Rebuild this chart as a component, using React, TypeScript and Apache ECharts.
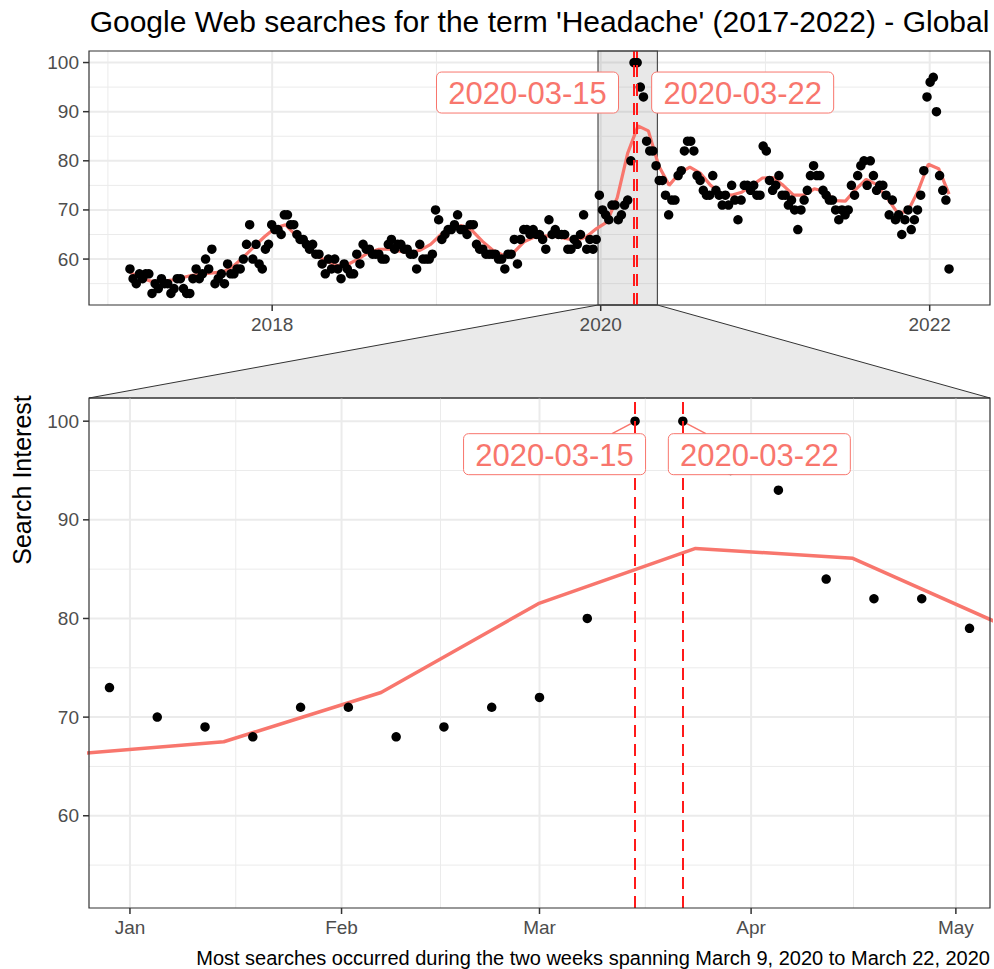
import React, { useEffect, useRef } from 'react';
import * as echarts from 'echarts';

// ---------- data ----------
const DAY = 86400000;
const ts = (s: string) => Date.parse(s.length === 10 ? s + 'T00:00:00Z' : s);

// Weekly Google Trends index for "Headache", weeks starting on Sundays
const firstWeek = '2017-02-19';
const searchInterest = [
  58, 56, 55, 57, 56, 57, 57, 53, 55, 54,
  56, 55, 55, 53, 54, 56, 56, 54, 53, 53,
  56, 58, 56, 57, 60, 58, 62, 55, 56, 57,
  55, 59, 57, 57, 58, 58, 60, 63, 67, 60,
  63, 59, 58, 62, 63, 67, 66, 66, 65, 69,
  69, 67, 67, 65, 64, 64, 63, 62, 63, 61,
  61, 59, 57, 60, 58, 60, 58, 56, 59, 58,
  57, 57, 61, 59, 63, 62, 62, 61, 61, 61,
  60, 60, 63, 64, 62, 63, 63, 62, 62, 61,
  61, 58, 63, 60, 60, 60, 61, 70, 68, 64,
  65, 66, 66, 67, 69, 66, 66, 65, 67, 67,
  63, 62, 62, 61, 61, 61, 61, 60, 60, 58,
  61, 61, 64, 59, 64, 66, 66, 65, 66, 65,
  65, 64, 62, 68, 65, 66, 65, 65, 65, 62,
  62, 64, 63, 65, 69, 62, 64, 62, 64, 73,
  70, 69, 68, 71, 71, 68, 69, 71, 72, 80,
  100, 100, 95, 93, 84, 82, 82, 79, 76, 76,
  73, 69, 72, 72, 77, 78, 82, 84, 84, 82,
  77, 76, 74, 73, 73, 77, 74, 73, 71, 73,
  71, 75, 72, 68, 72, 75, 75, 74, 75, 73,
  73, 83, 82, 76, 74, 75, 77, 73, 73, 71,
  72, 70, 66, 70, 72, 74, 77, 79, 77, 77,
  74, 73, 72, 72, 70, 68, 70, 69, 70, 75,
  73, 77, 79, 80, 75, 80, 77, 74, 75, 75,
  73, 69, 72, 68, 69, 65, 68, 70, 66, 68,
  70, 73, 78, 93, 96, 97, 90, 77, 74, 72, 58,
];

// Smoothed trend, evaluated at 80 evenly spaced dates over the whole span
const smoothFit = [
  57.3, 56.3, 55.5, 55.4, 55.7, 56.2, 56.7, 57.0, 57.2, 57.4,
  58.6, 60.5, 62.6, 64.6, 66.3, 67.0, 64.8, 62.5, 60.8, 59.5,
  58.7, 58.9, 60.0, 61.3, 62.0, 62.0, 61.6, 61.3, 61.8, 63.0,
  65.0, 66.3, 66.8, 65.8, 63.6, 61.8, 60.8, 61.3, 63.5, 64.5,
  64.7, 64.6, 64.2, 63.8, 64.5, 66.2, 67.5, 72.5, 81.5, 87.1,
  86.1, 79.0, 75.0, 77.5, 78.7, 77.5, 75.0, 73.3, 73.0, 73.6,
  75.0, 76.5, 76.6, 75.0, 73.0, 73.0, 74.3, 73.8, 71.9, 71.8,
  74.2, 76.2, 75.2, 72.5, 69.5, 69.6, 73.8, 79.3, 78.4, 73.2,
];

// Peak weeks that get a dashed marker and a label
const peakWeeks = ['2020-03-15', '2020-03-22'];

// Zoomed window shown in the lower panel
const zoomWindow = ['2020-01-01', '2020-04-30'];

// Axis breaks and labels
const topXMajor = ['2018-01-01', '2020-01-01', '2022-01-01'];
const topXLabels = ['2018', '2020', '2022'];
const topXMinor = ['2017-01-01', '2019-01-01', '2021-01-01'];
const botXMajor = ['2020-01-01', '2020-02-01', '2020-03-01', '2020-04-01', '2020-05-01'];
const botXLabels = ['Jan', 'Feb', 'Mar', 'Apr', 'May'];
const botXMinor = ['2020-01-16T12:00:00Z', '2020-02-15T12:00:00Z', '2020-03-16T12:00:00Z', '2020-04-16T00:00:00Z'];
const yMajor = [60, 70, 80, 90, 100];
const yMinor = [55, 65, 75, 85, 95];

const titleText = "Google Web searches for the term 'Headache' (2017-2022) - Global";
const yTitle = 'Search Interest';
const captionText = 'Most searches occurred during the two weeks spanning March 9, 2020 to March 22, 2020';

// ---------- derived ----------
const t0 = ts(firstWeek);
const weekDates = searchInterest.map((_, i) => t0 + i * 7 * DAY);
const spanMs = weekDates[weekDates.length - 1] - t0;
const smoothDates = smoothFit.map((_, k) => t0 + (k * spanMs) / (smoothFit.length - 1));
const points = weekDates.map((d, i) => [d, searchInterest[i]]);
const trend = smoothDates.map((d, k) => [d, smoothFit[k]]);

const topXMin = t0 - 0.05 * spanMs;
const topXMax = t0 + spanMs * 1.05;
const zSpan = ts(zoomWindow[1]) - ts(zoomWindow[0]);
const botXMin = ts(zoomWindow[0]) - 0.05 * zSpan;
const botXMax = ts(zoomWindow[1]) + 0.05 * zSpan;
const vMin = Math.min(...searchInterest);
const vMax = Math.max(...searchInterest);
const yMin = vMin - 0.05 * (vMax - vMin);
const yMax = vMax + 0.05 * (vMax - vMin);

const peakPoints = peakWeeks.map((d) => {
  const t = ts(d);
  const i = weekDates.indexOf(t);
  return [t, searchInterest[i]];
});

// ---------- layout & style ----------
const TOP = { left: 89, top: 51, width: 901, height: 254 };
const BOT = { left: 89, top: 398, width: 901, height: 510 };
const FONT = '"Liberation Sans", Arial, Helvetica, sans-serif';
const RED = '#F8766D';
const GRID = '#EBEBEB';
const DARK = '#333333';
const TICKTXT = '#4D4D4D';

const topLabelLayout = [
  { dx: -106.5, dy: 30, seg: null as null | number[] },
  { dx: 105.5, dy: 30, seg: null as null | number[] },
];
const botLabelLayout = [
  { dx: -80.5, dy: 33, seg: [-4, 2.5, -23, 12.5] },
  { dx: 76.5, dy: 33, seg: [4, 2.5, 23, 12.5] },
];

function txt(text: string, x: number, y: number, size: number, fill: string, align: string, valign: string) {
  return {
    type: 'text',
    x,
    y,
    style: {
      text,
      fill,
      font: `${size}px ${FONT}`,
      textAlign: align,
      textVerticalAlign: valign,
      align,
      verticalAlign: valign,
    },
  };
}

function xDecor(axis: number, majors: string[], labels: string[], minors: string[]) {
  const data = [
    ...majors.map((d, i) => [ts(d), yMin, 1, i]),
    ...minors.map((d) => [ts(d), yMin, 0, -1]),
  ];
  return {
    type: 'custom',
    xAxisIndex: axis,
    yAxisIndex: axis,
    silent: true,
    clip: false,
    z: 1,
    encode: { x: 0, y: 1 },
    data,
    renderItem: (params: any, api: any) => {
      const cs = params.coordSys;
      const x = api.coord([api.value(0), api.value(1)])[0];
      const major = api.value(2) === 1;
      const bottom = cs.y + cs.height;
      const children: any[] = [
        { type: 'line', shape: { x1: x, y1: cs.y, x2: x, y2: bottom }, style: { stroke: GRID, lineWidth: major ? 2 : 1 } },
      ];
      if (major) {
        children.push({ type: 'line', shape: { x1: x, y1: bottom, x2: x, y2: bottom + 6 }, style: { stroke: DARK, lineWidth: 1.5 } });
        children.push(txt(labels[api.value(3)], x, bottom + 10, 19, TICKTXT, 'center', 'top'));
      }
      return { type: 'group', children };
    },
  };
}

function yDecor(axis: number, xRef: number) {
  const data = [...yMajor.map((v) => [xRef, v, 1]), ...yMinor.map((v) => [xRef, v, 0])];
  return {
    type: 'custom',
    xAxisIndex: axis,
    yAxisIndex: axis,
    silent: true,
    clip: false,
    z: 1,
    encode: { x: 0, y: 1 },
    data,
    renderItem: (params: any, api: any) => {
      const cs = params.coordSys;
      const y = api.coord([api.value(0), api.value(1)])[1];
      const major = api.value(2) === 1;
      const children: any[] = [
        { type: 'line', shape: { x1: cs.x, y1: y, x2: cs.x + cs.width, y2: y }, style: { stroke: GRID, lineWidth: major ? 2 : 1 } },
      ];
      if (major) {
        children.push({ type: 'line', shape: { x1: cs.x - 6, y1: y, x2: cs.x, y2: y }, style: { stroke: DARK, lineWidth: 1.5 } });
        children.push(txt(String(api.value(1)), cs.x - 10, y, 19, TICKTXT, 'right', 'middle'));
      }
      return { type: 'group', children };
    },
  };
}

function peakLabels(axis: number, layout: typeof botLabelLayout) {
  return {
    type: 'custom',
    xAxisIndex: axis,
    yAxisIndex: axis,
    silent: true,
    clip: false,
    z: 6,
    encode: { x: 0, y: 1 },
    data: peakPoints,
    renderItem: (params: any, api: any) => {
      const [ax, ay] = api.coord([api.value(0), api.value(1)]);
      const l = layout[params.dataIndex];
      const cx = ax + l.dx;
      const cy = ay + l.dy;
      const children: any[] = [];
      if (l.seg) {
        children.push({
          type: 'line',
          shape: { x1: ax + l.seg[0], y1: ay + l.seg[1], x2: ax + l.seg[2], y2: ay + l.seg[3] },
          style: { stroke: RED, lineWidth: 1.5 },
        });
      }
      children.push({
        type: 'rect',
        shape: { x: cx - 91, y: cy - 20.5, width: 182, height: 41, r: 5 },
        style: { fill: '#FFFFFF', stroke: RED, lineWidth: 1 },
      });
      children.push(txt(peakWeeks[params.dataIndex], cx, cy + 1, 31, RED, 'center', 'middle'));
      return { type: 'group', children };
    },
  };
}

// Funnel linking the highlighted window in the upper panel to the lower panel
const zoomFunnel = {
  type: 'custom',
  xAxisIndex: 0,
  yAxisIndex: 0,
  silent: true,
  clip: false,
  z: 0,
  encode: { x: [0, 1], y: 2 },
  data: [[botXMin, botXMax, yMin]],
  renderItem: (params: any, api: any) => {
    const cs = params.coordSys;
    const x1 = api.coord([api.value(0), api.value(2)])[0];
    const x2 = api.coord([api.value(1), api.value(2)])[0];
    const bottom = cs.y + cs.height;
    return {
      type: 'polygon',
      shape: { points: [[x1, bottom], [x2, bottom], [BOT.left + BOT.width, BOT.top], [BOT.left, BOT.top]] },
      style: { fill: '#EAEAEA', stroke: DARK, lineWidth: 1 },
    };
  },
};

// Highlighted window inside the upper panel
const zoomWindowRect = {
  type: 'custom',
  xAxisIndex: 0,
  yAxisIndex: 0,
  silent: true,
  clip: false,
  z: 2,
  encode: { x: [0, 1], y: 2 },
  data: [[botXMin, botXMax, yMin]],
  renderItem: (params: any, api: any) => {
    const cs = params.coordSys;
    const x1 = api.coord([api.value(0), api.value(2)])[0];
    const x2 = api.coord([api.value(1), api.value(2)])[0];
    return {
      type: 'rect',
      shape: { x: x1, y: cs.y, width: x2 - x1, height: cs.height },
      style: { fill: 'rgba(128,128,128,0.18)', stroke: '#4D4D4D', lineWidth: 1.2 },
    };
  },
};

const vLines = {
  symbol: ['none', 'none'],
  silent: true,
  animation: false,
  label: { show: false },
  lineStyle: { color: '#FF1A1A', width: 2, type: [12, 7] },
  data: peakWeeks.map((d) => ({ xAxis: ts(d) })),
};

const hiddenAxis = {
  axisLine: { show: false },
  axisTick: { show: false },
  axisLabel: { show: false },
  splitLine: { show: false },
};

const option: any = {
  animation: false,
  backgroundColor: '#FFFFFF',
  grid: [
    { ...TOP, containLabel: false },
    { ...BOT, containLabel: false },
  ],
  xAxis: [
    { type: 'time', gridIndex: 0, min: topXMin, max: topXMax, ...hiddenAxis },
    { type: 'time', gridIndex: 1, min: botXMin, max: botXMax, ...hiddenAxis },
  ],
  yAxis: [
    { type: 'value', gridIndex: 0, min: yMin, max: yMax, ...hiddenAxis },
    { type: 'value', gridIndex: 1, min: yMin, max: yMax, ...hiddenAxis },
  ],
  series: [
    zoomFunnel,
    xDecor(0, topXMajor, topXLabels, topXMinor),
    yDecor(0, topXMin),
    xDecor(1, botXMajor, botXLabels, botXMinor),
    yDecor(1, botXMin),
    zoomWindowRect,
    {
      type: 'line',
      xAxisIndex: 0,
      yAxisIndex: 0,
      data: trend,
      showSymbol: false,
      clip: true,
      z: 3,
      lineStyle: { color: RED, width: 3.2 },
      markLine: vLines,
    },
    {
      type: 'scatter',
      xAxisIndex: 0,
      yAxisIndex: 0,
      data: points,
      symbolSize: 9.5,
      clip: true,
      z: 4,
      itemStyle: { color: '#000000', opacity: 1 },
    },
    {
      type: 'line',
      xAxisIndex: 1,
      yAxisIndex: 1,
      data: trend,
      showSymbol: false,
      clip: true,
      z: 3,
      lineStyle: { color: RED, width: 3.5 },
      markLine: vLines,
    },
    {
      type: 'scatter',
      xAxisIndex: 1,
      yAxisIndex: 1,
      data: points,
      symbolSize: 9.5,
      clip: true,
      z: 4,
      itemStyle: { color: '#000000', opacity: 1 },
    },
    peakLabels(0, topLabelLayout),
    peakLabels(1, botLabelLayout),
  ],
  graphic: [
    {
      type: 'rect',
      z: 100,
      silent: true,
      shape: { x: TOP.left, y: TOP.top, width: TOP.width, height: TOP.height },
      style: { fill: 'none', stroke: DARK, lineWidth: 1.2 },
    },
    {
      type: 'rect',
      z: 100,
      silent: true,
      shape: { x: BOT.left, y: BOT.top, width: BOT.width, height: BOT.height },
      style: { fill: 'none', stroke: DARK, lineWidth: 1.2 },
    },
    { ...txt(titleText, TOP.left + TOP.width / 2, 21, 30, '#000000', 'center', 'middle'), z: 100 },
    { ...txt(yTitle, 22, 480, 25, '#000000', 'center', 'middle'), rotation: Math.PI / 2, z: 100 },
    { ...txt(captionText, 990, 958, 20, '#000000', 'right', 'middle'), z: 100 },
  ],
};

export default function App() {
  const ref = useRef<HTMLDivElement>(null);
  useEffect(() => {
    document.body.style.margin = '0';
    const chart = echarts.init(ref.current as HTMLDivElement, null, { renderer: 'svg' });
    chart.setOption(option);
    return () => chart.dispose();
  }, []);
  return <div ref={ref} style={{ width: 994, height: 969 }} />;
}
